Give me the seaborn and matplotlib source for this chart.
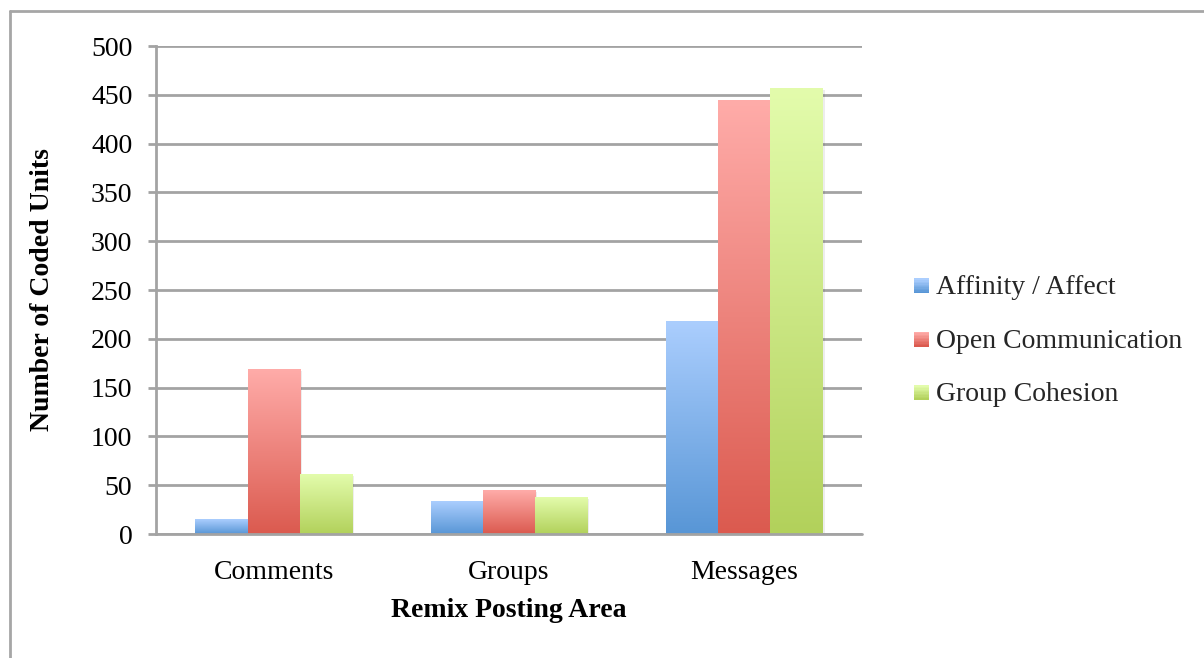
import numpy as np
import pandas as pd
import seaborn as sns
import matplotlib.pyplot as plt
from matplotlib.colors import LinearSegmentedColormap, to_rgb
from matplotlib.patches import Rectangle
from matplotlib.lines import Line2D
from matplotlib.legend_handler import HandlerBase

# Coded units per posting area and coding category
areas = ["Comments", "Groups", "Messages"]
categories = ["Affinity / Affect", "Open Communication", "Group Cohesion"]
affinity = [15, 33, 218]
open_comm = [169, 45, 444]
cohesion = [61, 37, 456]

# Vertical gradient for each category: (top colour, bottom colour)
gradients = {
    "Affinity / Affect": ("#abcefe", "#5896d6"),
    "Open Communication": ("#ffaca9", "#db5a4f"),
    "Group Cohesion": ("#e3fcac", "#b2d15b"),
}

df = pd.DataFrame({
    "area": np.repeat(areas, len(categories)),
    "category": categories * len(areas),
    "units": [v for trio in zip(affinity, open_comm, cohesion) for v in trio],
})

sns.set_theme(style="white")
plt.rcParams["font.family"] = ["Liberation Serif", "DejaVu Serif"]
FS = 20

fig = plt.figure(figsize=(12.04, 6.58), dpi=100)
ax = fig.add_axes([0.1296, 0.1884, 0.586, 0.7416])

mid_colors = {k: tuple((np.array(to_rgb(a)) + np.array(to_rgb(b))) / 2)
              for k, (a, b) in gradients.items()}

sns.barplot(data=df, x="area", y="units", hue="category", order=areas,
            hue_order=categories, palette=mid_colors, width=0.665, gap=0,
            saturation=1, ax=ax, legend=False, zorder=3)

# Replace flat fills with vertical gradients and a soft drop shadow
grad = np.linspace(1, 0, 256).reshape(-1, 1)
bars = [p for p in ax.patches if isinstance(p, Rectangle)]
for i, p in enumerate(bars):
    cat = categories[i // len(areas)]
    top, bottom = gradients[cat]
    cmap = LinearSegmentedColormap.from_list(cat, [bottom, top])
    x0, y0 = p.get_x(), p.get_y()
    w, h = p.get_width(), p.get_height()
    ax.add_patch(Rectangle((x0 + 0.01, y0), w, h - 1.5, facecolor="#000000",
                           alpha=0.07, edgecolor="none", zorder=2.5))
    ax.imshow(grad, cmap=cmap, extent=(x0, x0 + w, y0, y0 + h),
              aspect="auto", zorder=3.5, interpolation="bicubic")
    p.set_visible(False)
ax.set_xlim(-0.5, 2.5)
ax.set_ylim(0, 500)
ax.set_yticks(range(0, 501, 50))

grid_color = "#a3a3a3"
ax.yaxis.grid(True, color=grid_color, linewidth=2, zorder=1)
ax.xaxis.grid(False)
for s in ["top", "right", "bottom"]:
    ax.spines[s].set_visible(False)
ax.spines["left"].set_color(grid_color)
ax.spines["left"].set_linewidth(2)
ax.tick_params(axis="y", which="both", left=True, length=6, width=2,
               color=grid_color, labelsize=FS, pad=11, labelcolor="black")
ax.tick_params(axis="x", bottom=False, labelsize=FS, pad=13,
               labelcolor="black")
ax.axhline(0, color=grid_color, linewidth=2, zorder=4, clip_on=False)

ax.set_xlabel("Remix Posting Area", fontsize=FS, fontweight="bold",
              labelpad=9, color="black")
ax.set_ylabel("Number of Coded Units", fontsize=FS, fontweight="bold",
              labelpad=26, color="black")


class GradientSquare(HandlerBase):
    def __init__(self, top, bottom):
        super().__init__()
        self.top, self.bottom = top, bottom

    def create_artists(self, legend, orig_handle, xdescent, ydescent,
                       width, height, fontsize, trans):
        cmap = LinearSegmentedColormap.from_list("sq", [self.bottom, self.top])
        n = 10
        size = 10.5
        x0 = width - size
        y0 = -ydescent + (height - size) / 2 - 1
        artists = []
        for k in range(n):
            artists.append(Rectangle((x0, y0 + size * k / n), size,
                                     size / n + 0.2, facecolor=cmap(k / (n - 1)),
                                     edgecolor="none", transform=trans))
        return artists


handles = [Line2D([], []) for _ in categories]
handler_map = {h: GradientSquare(*gradients[c]) for h, c in zip(handles, categories)}
fig.legend(handles, categories, handler_map=handler_map, loc="center left",
           bbox_to_anchor=(0.759, 0.482), frameon=False, fontsize=FS,
           labelspacing=1.0, handlelength=0.53, handletextpad=0.25,
           borderaxespad=0, borderpad=0)

# Chart-area border (top and left edges)
fig.add_artist(Line2D([0.0085, 1.0], [0.9835, 0.9835], color="#a6a6a6",
                      linewidth=2, transform=fig.transFigure))
fig.add_artist(Line2D([0.0085, 0.0085], [0.0, 0.9835], color="#a6a6a6",
                      linewidth=2, transform=fig.transFigure))

fig.savefig("out.png", dpi=100, facecolor="white")
